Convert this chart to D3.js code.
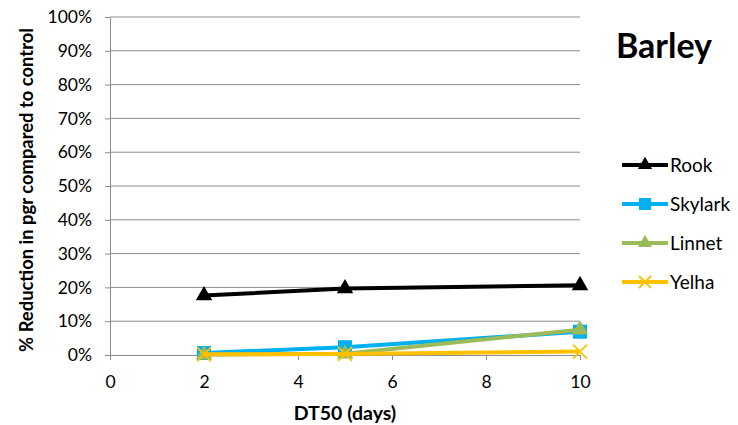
<!DOCTYPE html>
<html>
<head>
<meta charset="utf-8">
<script src="https://cdn.jsdelivr.net/npm/d3@7"></script>
<style>
  body { margin: 0; background: #fff; }
  text { font-family: Lato, "Open Sans", sans-serif; fill: #000; }
</style>
</head>
<body>
<svg id="chart"></svg>
<script>
// x values (DT50, days) and % reduction per species
const dt50 = [2, 5, 10];
const rook = [0.176, 0.197, 0.206];
const skylark = [0.006, 0.023, 0.069];
const linnet = [0.001, 0.004, 0.075];
const yelha = [0.002, 0.003, 0.010];

const seriesNames = ['Rook', 'Skylark', 'Linnet', 'Yelha'];
const seriesValues = [rook, skylark, linnet, yelha];
const seriesColors = ['#000000', '#00B0F0', '#9BBB59', '#FFC000'];
const seriesMarkers = ['triangle', 'square', 'triangle', 'cross'];

const xTicks = [0, 2, 4, 6, 8, 10];
const yTicks = [0, 0.1, 0.2, 0.3, 0.4, 0.5, 0.6, 0.7, 0.8, 0.9, 1];

const WIDTH = 738;
const HEIGHT = 425;
const PLOT = {left: 110, right: 580, top: 17, bottom: 355};

const svg = d3.select('#chart').attr('width', WIDTH).attr('height', HEIGHT);

const x = d3.scaleLinear().domain([0, 10]).range([PLOT.left, PLOT.right]);
const y = d3.scaleLinear().domain([0, 1]).range([PLOT.bottom, PLOT.top]);

// gridlines
svg.append('g')
  .selectAll('line')
  .data(yTicks.filter(d => d > 0))
  .enter()
  .append('line')
  .attr('x1', PLOT.left)
  .attr('x2', PLOT.right)
  .attr('y1', d => y(d))
  .attr('y2', d => y(d))
  .attr('stroke', '#8c8c8c')
  .attr('stroke-width', 1);

// y axis
const yAxis = svg.append('g')
  .attr('transform', `translate(${PLOT.left},0)`)
  .call(d3.axisLeft(y).tickValues(yTicks).tickFormat(d3.format('.0%')).tickSize(5).tickSizeOuter(0).tickPadding(13));
yAxis.select('.domain').attr('stroke', '#8c8c8c');
yAxis.selectAll('.tick line').attr('stroke', '#8c8c8c');
yAxis.selectAll('text').attr('font-size', 17.5).attr('font-family', 'Lato').attr('fill', '#000');

// x axis
const xAxis = svg.append('g')
  .attr('transform', `translate(0,${PLOT.bottom})`)
  .call(d3.axisBottom(x).tickValues(xTicks).tickSize(5).tickSizeOuter(0).tickPadding(16));
xAxis.select('.domain').attr('stroke', '#8c8c8c');
xAxis.selectAll('.tick line').attr('stroke', '#8c8c8c');
xAxis.selectAll('text').attr('font-size', 17.5).attr('font-family', 'Lato').attr('fill', '#000');

// axis titles
svg.append('text')
  .attr('x', 345)
  .attr('y', 420)
  .attr('text-anchor', 'middle')
  .attr('font-size', 19.5)
  .attr('font-weight', 'bold')
  .text('DT50 (days)');

svg.append('text')
  .attr('transform', 'translate(33,190) rotate(-90)')
  .attr('text-anchor', 'middle')
  .attr('font-size', 18.4)
  .attr('font-weight', 'bold')
  .text('% Reduction in pgr compared to control');

svg.append('text')
  .attr('x', 664)
  .attr('y', 58)
  .attr('text-anchor', 'middle')
  .attr('font-size', 34)
  .attr('font-weight', 'bold')
  .text('Barley');

function drawMarker(g, type, color, size) {
  if (type === 'triangle') {
    g.append('path')
      .attr('d', d3.symbol(d3.symbolTriangle, size * size * 0.6)())
      .attr('fill', color);
  } else if (type === 'square') {
    g.append('rect')
      .attr('x', -size / 2).attr('y', -size / 2)
      .attr('width', size).attr('height', size)
      .attr('fill', color);
  } else {
    const h = size / 2;
    g.append('path')
      .attr('d', `M${-h},${-h}L${h},${h}M${-h},${h}L${h},${-h}`)
      .attr('stroke', color)
      .attr('stroke-width', 1.8)
      .attr('fill', 'none');
  }
}

const line = d3.line().x(d => x(d[0])).y(d => y(d[1]));

seriesNames.forEach((name, i) => {
  const pts = dt50.map((d, j) => [d, seriesValues[i][j]]);
  const g = svg.append('g');
  g.append('path')
    .datum(pts)
    .attr('d', line)
    .attr('fill', 'none')
    .attr('stroke', seriesColors[i])
    .attr('stroke-width', 4);
  pts.forEach(p => {
    const m = g.append('g').attr('transform', `translate(${x(p[0])},${y(p[1])})`);
    drawMarker(m, seriesMarkers[i], seriesColors[i], 14);
  });
});

// legend
const legend = svg.append('g');
seriesNames.forEach((name, i) => {
  const ly = 165 + i * 39;
  const item = legend.append('g').attr('transform', `translate(622,${ly})`);
  item.append('line')
    .attr('x1', 0).attr('x2', 46)
    .attr('stroke', seriesColors[i])
    .attr('stroke-width', 4);
  const m = item.append('g').attr('transform', 'translate(23,0)');
  drawMarker(m, seriesMarkers[i], seriesColors[i], 12);
  item.append('text')
    .attr('x', 48)
    .attr('y', 0)
    .attr('dy', '0.35em')
    .attr('font-size', 19)
    .text(name);
});
</script>
</body>
</html>
